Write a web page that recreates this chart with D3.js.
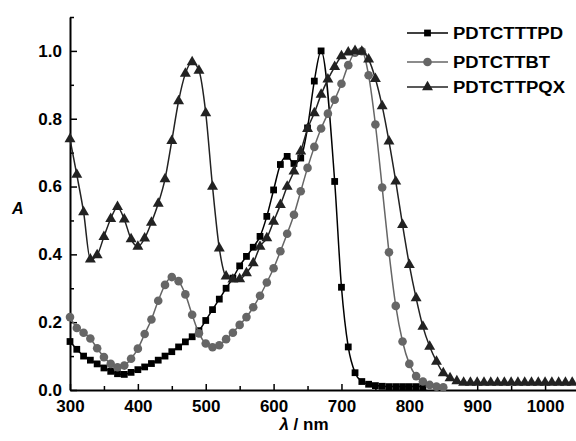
<!doctype html>
<html lang="en">
<head>
<meta charset="utf-8">
<title>Absorption spectra</title>
<script src="https://cdnjs.cloudflare.com/ajax/libs/d3/7.8.5/d3.min.js"></script>
<style>
  body { margin: 0; background: #fff; }
  text { font-family: "Liberation Sans", Arial, sans-serif; font-weight: bold; }
</style>
</head>
<body>
<svg width="576" height="441" id="svg"></svg>
<script>

var seriesNames = ['PDTCTTTPD', 'PDTCTTBT', 'PDTCTTPQX'];

var tpdNm = [300,310,320,330,340,350,360,370,380,390,400,410,420,430,440,450,460,470,480,490,
  500,510,520,530,540,550,560,570,580,590,600,610,620,630,640,650,660,670,690,700,
  710,720,730,740,750,760,770,780,790,800,810,820];
var tpdA = [0.143,0.120,0.100,0.088,0.077,0.065,0.055,0.048,0.046,0.052,0.060,0.068,0.078,0.088,0.100,0.113,0.127,0.142,0.157,0.175,
  0.205,0.237,0.268,0.300,0.330,0.366,0.394,0.421,0.453,0.512,0.590,0.665,0.689,0.668,0.684,0.773,0.911,1.000,0.615,0.303,
  0.127,0.051,0.025,0.017,0.013,0.011,0.010,0.010,0.010,0.010,0.010,0.010];

var btNm = [300,310,320,330,340,350,360,370,380,390,400,410,420,430,440,450,460,470,480,490,
  500,510,520,530,540,550,560,570,580,590,600,610,620,630,640,650,660,670,680,690,
  700,710,720,730,740,750,760,770,780,790,800,810,820,830,840,850];
var btA = [0.215,0.183,0.169,0.152,0.123,0.097,0.077,0.067,0.072,0.092,0.122,0.165,0.208,0.263,0.310,0.333,0.321,0.282,0.222,0.167,
  0.137,0.126,0.132,0.150,0.169,0.192,0.215,0.244,0.278,0.317,0.359,0.409,0.461,0.517,0.586,0.655,0.717,0.771,0.815,0.856,
  0.903,0.958,0.995,0.999,0.928,0.783,0.597,0.406,0.248,0.143,0.077,0.041,0.025,0.015,0.010,0.008];

var pqxNm = [300,310,320,330,340,350,360,370,380,390,400,410,420,430,440,450,460,470,480,490,
  500,510,520,530,540,550,560,570,580,590,600,610,620,630,640,650,660,670,680,690,
  700,710,720,730,740,750,760,770,780,790,800,810,820,830,840,850,860,870,880,890,
  900,910,920,930,940,950,960,970,980,990,1000,1010,1020,1030,1040];
var pqxA = [0.740,0.635,0.525,0.385,0.398,0.452,0.505,0.540,0.503,0.445,0.423,0.447,0.494,0.550,0.622,0.735,0.852,0.933,0.967,0.942,
  0.817,0.600,0.418,0.335,0.326,0.327,0.345,0.374,0.423,0.448,0.497,0.546,0.600,0.645,0.704,0.770,0.817,0.871,0.916,0.953,
  0.985,0.996,1.000,0.998,0.975,0.918,0.837,0.733,0.615,0.487,0.369,0.271,0.187,0.128,0.084,0.050,0.035,0.026,0.022,0.022,
  0.022,0.022,0.022,0.022,0.022,0.022,0.022,0.022,0.022,0.022,0.022,0.022,0.022,0.022,0.022];

var xMajor = [300,400,500,600,700,800,900,1000];
var xMinor = [350,450,550,650,750,850,950,1050];
var yMajor = [0.0,0.2,0.4,0.6,0.8,1.0];
var yMinor = [0.1,0.3,0.5,0.7,0.9,1.1];

var svg = d3.select('#svg');

var x = d3.scaleLinear().domain([300,1050]).range([70,579]);
var y = d3.scaleLinear().domain([0,1.1]).range([390,17]);

function zip(nm, a) {
  return nm.map(function(d,i) { return {nm: d, a: a[i]}; });
}

var series = [
  {name: seriesNames[0], data: zip(tpdNm,tpdA), color: '#000', symbol: d3.symbolSquare, size: 46},
  {name: seriesNames[1], data: zip(btNm,btA), color: '#666', symbol: d3.symbolCircle, size: 58},
  {name: seriesNames[2], data: zip(pqxNm,pqxA), color: '#222', symbol: d3.symbolTriangle, size: 52}
];

// axes
svg.append('g').attr('transform','translate(70,0)')
  .call(d3.axisLeft(y).tickValues(yMajor).tickFormat(d3.format('.1f')).tickSizeInner(-7).tickSizeOuter(0).tickPadding(8));
svg.append('g').attr('transform','translate(70,0)')
  .call(d3.axisLeft(y).tickValues(yMinor).tickFormat('').tickSizeInner(-4).tickSizeOuter(0))
  .select('.domain').remove();

svg.append('g').attr('transform','translate(0,390)')
  .call(d3.axisBottom(x).tickValues(xMajor).tickFormat(d3.format('d')).tickSizeInner(-6).tickSizeOuter(0).tickPadding(10));
svg.append('g').attr('transform','translate(0,390)')
  .call(d3.axisBottom(x).tickValues(xMinor).tickFormat('').tickSizeInner(-4).tickSizeOuter(0))
  .select('.domain').remove();

svg.selectAll('.domain').attr('stroke-width',2);
svg.selectAll('.tick line').attr('stroke-width',1.5);
svg.selectAll('.tick text').attr('font-size','17px').attr('fill','#000');

// series
var line = d3.line()
  .x(function(d) { return x(d.nm); })
  .y(function(d) { return y(d.a); })
  .curve(d3.curveMonotoneX);

series.forEach(function(s) {
  var g = svg.append('g');
  g.append('path')
    .attr('d', line(s.data))
    .attr('fill','none')
    .attr('stroke', s.color)
    .attr('stroke-width',1.5);
  g.selectAll('path.pt')
    .data(s.data)
    .enter()
    .append('path')
    .attr('class','pt')
    .attr('d', d3.symbol().type(s.symbol).size(s.size))
    .attr('transform', function(d) { return 'translate('+x(d.nm)+','+y(d.a)+')'; })
    .attr('fill', s.color);
});

// axis titles
svg.append('text')
  .attr('x',12).attr('y',214)
  .attr('font-size','16px')
  .attr('font-style','italic')
  .text('A');

var xt = svg.append('text')
  .attr('x',304).attr('y',430)
  .attr('text-anchor','middle')
  .attr('font-size','17px');
xt.append('tspan').attr('font-style','italic').text('λ');
xt.append('tspan').text(' / nm');

// legend
var legend = svg.append('g')
  .selectAll('g')
  .data(series)
  .enter()
  .append('g')
  .attr('transform', function(d,i) { return 'translate(0,' + [33,62,87][i] + ')'; });

legend.append('line')
  .attr('x1',407).attr('x2',448)
  .attr('stroke', function(d) { return d.color; })
  .attr('stroke-width',1.5);
legend.append('path')
  .attr('d', function(d) { return d3.symbol().type(d.symbol).size(d.size)(); })
  .attr('transform','translate(427.5,0)')
  .attr('fill', function(d) { return d.color; });
legend.append('text')
  .attr('x',453).attr('y',6)
  .attr('font-size','16px')
  .attr('textLength', function(d,i) { return [110,97,112][i]; })
  .attr('lengthAdjust','spacingAndGlyphs')
  .text(function(d) { return d.name; });

</script>
</body>
</html>
